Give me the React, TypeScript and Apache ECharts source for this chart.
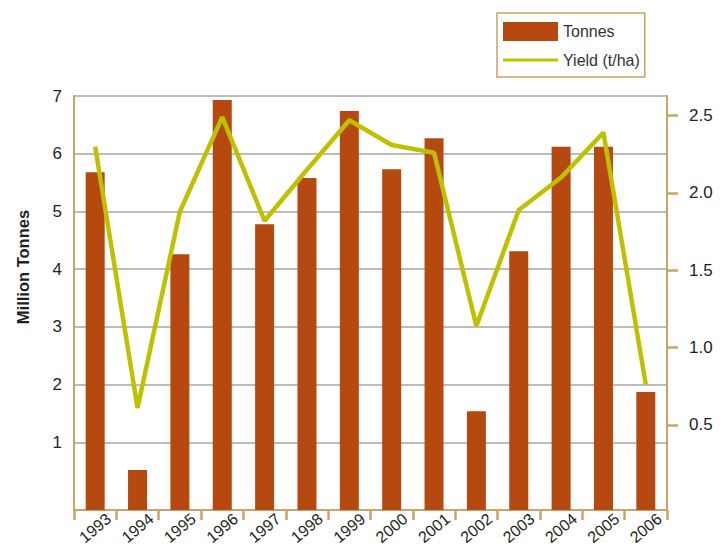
import React, { useEffect, useRef } from "react";
import * as echarts from "echarts";

const years = ["1993", "1994", "1995", "1996", "1997", "1998", "1999", "2000", "2001", "2002", "2003", "2004", "2005", "2006"];
const tonnes = [5.68, 0.52, 4.26, 6.93, 4.78, 5.58, 6.74, 5.73, 6.27, 1.54, 4.31, 6.12, 6.12, 1.87];
const yieldTha = [2.3, 0.61, 1.88, 2.49, 1.82, 2.15, 2.47, 2.31, 2.26, 1.14, 1.89, 2.1, 2.39, 0.76];
const leftTicks = [1, 2, 3, 4, 5, 6, 7];
const rightTicks = [0.5, 1.0, 1.5, 2.0, 2.5];

const FONT = "'Liberation Sans Narrow', 'Liberation Sans', Arial, sans-serif";
const TAN = "#C9A466";
const BAR = "#B5490F";
const LINE = "#BFC100";
const TEXT = "#231F20";
const LEFT_MIN = -0.173;

export default function App() {
  const ref = useRef<HTMLDivElement>(null);
  useEffect(() => {
    if (!ref.current) return;
    const chart = echarts.init(ref.current, undefined, { renderer: "svg" });
    chart.setOption({
      animation: false,
      textStyle: { fontFamily: FONT },
      grid: { left: 74, right: 60, top: 96, bottom: 37, containLabel: false, outerBoundsMode: "none" },
      legend: {
        orient: "vertical",
        left: 497,
        top: 13,
        itemWidth: 55,
        itemHeight: 19,
        itemGap: 11,
        padding: [9, 5, 9, 6],
        borderColor: TAN,
        borderWidth: 1.5,
        textStyle: { fontSize: 16, color: "#333", fontFamily: FONT },
        lineStyle: { width: 3 },
        data: [
          { name: "Tonnes", icon: "rect" },
          { name: "Yield (t/ha)", icon: "path://M0,0 L55,0 L55,3 L0,3 Z" },
        ],
      },
      graphic: [
        {
          type: "text",
          x: 23,
          y: 267,
          rotation: Math.PI / 2,
          style: {
            text: "Million Tonnes",
            fontFamily: FONT,
            fontSize: 16.5,
            fontWeight: "bold",
            fill: TEXT,
            textAlign: "center",
            textVerticalAlign: "middle",
          },
        },
      ],
      xAxis: {
        type: "category",
        data: years,
        boundaryGap: true,
        axisLine: { onZero: false, lineStyle: { color: TAN, width: 2 } },
        axisTick: { show: true, length: 10, lineStyle: { color: TAN, width: 2.5 } },
        axisLabel: {
          rotate: 40,
          fontSize: 16,
          lineHeight: 16,
          color: TEXT,
          margin: 18,
          align: "center",
          verticalAlign: "middle",
          fontFamily: FONT,
        },
        splitLine: { show: false },
      },
      yAxis: [
        {
          type: "value",
          min: LEFT_MIN,
          max: 7,
          startValue: LEFT_MIN,
          axisLine: { show: true, lineStyle: { color: TAN, width: 2 } },
          axisTick: { show: false },
          axisLabel: { customValues: leftTicks, fontSize: 17, color: TEXT, margin: 12, fontFamily: FONT },
          splitLine: { show: false },
        },
        {
          type: "value",
          position: "right",
          min: -0.05,
          max: 2.627,
          axisLine: { show: true, lineStyle: { color: TAN, width: 2 } },
          axisTick: { show: true, customValues: rightTicks, length: 11, lineStyle: { color: TAN, width: 2.5 } },
          axisLabel: {
            customValues: rightTicks,
            formatter: (v: number) => v.toFixed(1),
            fontSize: 17,
            color: TEXT,
            margin: 22,
            fontFamily: FONT,
          },
          splitLine: { show: false },
        },
      ],
      series: [
        {
          name: "Tonnes",
          type: "bar",
          yAxisIndex: 0,
          data: tonnes,
          barWidth: 19,
          itemStyle: { color: BAR },
          z: 2,
          markLine: {
            silent: true,
            z: 1,
            symbol: ["none", "none"],
            label: { show: false },
            lineStyle: { color: "#A6A6A6", width: 1.5, type: "solid" },
            emphasis: { disabled: true },
            data: leftTicks.map((v) => ({ yAxis: v })),
          },
        },
        {
          name: "Yield (t/ha)",
          type: "line",
          yAxisIndex: 1,
          data: yieldTha,
          symbol: "none",
          lineStyle: { color: LINE, width: 4.5 },
          itemStyle: { color: LINE },
          z: 3,
        },
      ],
    });
    return () => chart.dispose();
  }, []);
  return (
    <div
      ref={ref}
      style={{ position: "absolute", left: 0, top: 0, width: 727, height: 547, background: "#fff" }}
    />
  );
}
